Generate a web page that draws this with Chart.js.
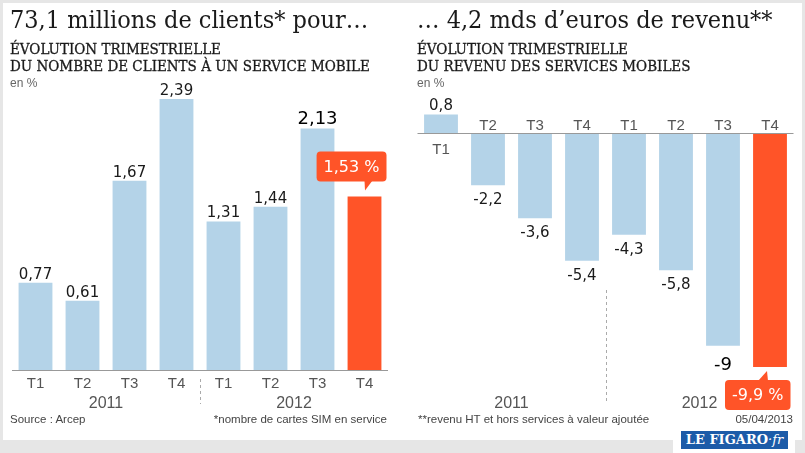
<!DOCTYPE html>
<html>
<head>
<meta charset="utf-8">
<script src="https://cdn.jsdelivr.net/npm/chart.js@4.4.1/dist/chart.umd.min.js"></script>
<style>
  html, body { margin: 0; padding: 0; }
  body { width: 805px; height: 453px; background: #e6e6e6; position: relative; overflow: hidden; font-family: "Liberation Sans", sans-serif; }
  #panel { position: absolute; left: 3px; top: 3px; width: 799px; height: 437px; background: #fff; }
  canvas { position: absolute; top: 0; }
  #left { left: 0; }
  #right { left: 402px; }
  .t { position: absolute; white-space: nowrap; color: #1a1a1a; }
  .title { font-family: "DejaVu Serif"; font-stretch: condensed; font-size: 25px; top: 5px; }
  .sub { font-family: "DejaVu Serif"; font-stretch: condensed; font-size: 15px; line-height: 17px; top: 41px;
    -webkit-text-stroke: 0.3px #1a1a1a; }
  .unit { font-size: 12px; color: #666; top: 76px; }
  .foot { font-size: 11.5px; color: #444; top: 413px; }
  #logo { position: absolute; left: 673px; top: 431px; width: 122px; height: 22px; background: #fff; }
  #logo div { position: absolute; left: 8px; top: 0; width: 107px; height: 18px; background: #1c5ba8; color: #fff;
    font-family: "DejaVu Serif"; font-weight: bold; font-size: 13px; line-height: 18px; text-align: center; }
</style>
</head>
<body>
<div id="panel"></div>
<canvas id="left" width="402" height="453"></canvas>
<canvas id="right" width="403" height="453"></canvas>

<div class="t title" style="left:10px">73,1 millions de clients* pour…</div>
<div class="t sub" style="left:10px">ÉVOLUTION TRIMESTRIELLE<br>DU NOMBRE DE CLIENTS À UN SERVICE MOBILE</div>
<div class="t unit" style="left:10px">en %</div>

<div class="t title" style="left:417px">… 4,2 mds d’euros de revenu**</div>
<div class="t sub" style="left:417px">ÉVOLUTION TRIMESTRIELLE<br>DU REVENU DES SERVICES MOBILES</div>
<div class="t unit" style="left:417px">en %</div>

<div class="t foot" style="left:10px">Source : Arcep</div>
<div class="t foot" style="right:418px">*nombre de cartes SIM en service</div>
<div class="t foot" style="left:418px">**revenu HT et hors services à valeur ajoutée</div>
<div class="t foot" style="right:12px">05/04/2013</div>
<div id="logo"><div>LE FIGARO<span style="font-weight:normal;font-style:italic">·fr</span></div></div>

<script>
const quarters = ["T1", "T2", "T3", "T4", "T1", "T2", "T3", "T4"];
const years = ["2011", "2012"];
const clients = [0.77, 0.61, 1.67, 2.39, 1.31, 1.44, 2.13, 1.53];
const revenue = [0.8, -2.2, -3.6, -5.4, -4.3, -5.8, -9, -9.9];

const blue = "#b4d3e8";
const orange = "#ff5428";

function fmt(v) {
  return String(v).replace(".", ",");
}

const labelsPlugin = {
  id: "labels",
  afterDatasetsDraw(chart, args, opts) {
    const { ctx, chartArea, scales: { x, y } } = chart;
    const values = chart.data.datasets[0].data;
    const bars = chart.getDatasetMeta(0).data;
    const zero = Math.round(y.getPixelForValue(0)) + 0.5;
    const last = values.length - 1;

    ctx.save();
    // axis line
    ctx.strokeStyle = "#999";
    ctx.lineWidth = 1;
    ctx.beginPath();
    ctx.moveTo(chartArea.left, zero);
    ctx.lineTo(chartArea.right, zero);
    ctx.stroke();

    ctx.textAlign = "center";
    ctx.textBaseline = "alphabetic";

    values.forEach((v, i) => {
      const bar = bars[i];
      const cx = bar.x;
      const end = bar.y;

      // quarter labels
      ctx.fillStyle = "#555";
      ctx.font = '15px "Liberation Sans"';
      const tickY = opts.flipTicks && v < 0 ? zero - 4 : zero + opts.tickBelow;
      ctx.fillText(chart.data.labels[i], cx, tickY);

      if (i === last) {
        // callout
        ctx.font = '16px "DejaVu Sans"';
        const txt = fmt(v) + " %";
        const w = ctx.measureText(txt).width + 14;
        const h = 30;
        let bx, by;
        ctx.fillStyle = orange;
        ctx.beginPath();
        if (v >= 0) {
          bx = cx + 22 - w;
          by = end - 15 - h;
          ctx.moveTo(cx, by + h - 1);
          ctx.lineTo(cx + 8, by + h - 1);
          ctx.lineTo(cx + 0.5, by + h + 9);
        } else {
          bx = cx - 45;
          by = end + 13;
          ctx.moveTo(cx - 12, by + 1);
          ctx.lineTo(cx - 2, by + 1);
          ctx.lineTo(cx - 3, by - 9);
        }
        ctx.closePath();
        ctx.fill();
        ctx.beginPath();
        ctx.roundRect(bx, by, w, h, 4);
        ctx.fill();
        ctx.fillStyle = "#fff";
        ctx.textBaseline = "middle";
        ctx.fillText(txt, bx + w / 2, by + h / 2 + 1);
        ctx.textBaseline = "alphabetic";
      } else {
        const big = i === last - 1;
        ctx.fillStyle = big ? "#000" : "#1a1a1a";
        ctx.font = (big ? "18px" : "15px") + ' "DejaVu Sans"';
        const ly = v >= 0 ? end - 4 : end + (big ? 24 : 19);
        ctx.fillText(fmt(v), cx, ly);
      }
    });

    // years and separator
    const half = values.length / 2;
    ctx.fillStyle = "#555";
    ctx.font = '16px "Liberation Sans"';
    years.forEach((yr, k) => {
      const a = bars[k * half].x;
      const b = bars[k * half + half - 1].x;
      ctx.fillText(yr, (a + b) / 2, 408);
    });
    const sx = Math.round((bars[half - 1].x + bars[half].x) / 2) + 0.5;
    ctx.strokeStyle = "#aaa";
    ctx.setLineDash([3, 3]);
    ctx.beginPath();
    ctx.moveTo(sx, opts.sepTop);
    ctx.lineTo(sx, 404);
    ctx.stroke();
    ctx.restore();
  }
};

function makeChart(id, values, yMin, yMax, padding, plugOpts) {
  return new Chart(document.getElementById(id), {
    type: "bar",
    data: {
      labels: quarters,
      datasets: [
        {
          data: values,
          backgroundColor: values.map((v, i) => (i === values.length - 1 ? orange : blue)),
          barPercentage: 0.72,
          categoryPercentage: 1,
        },
      ],
    },
    options: {
      responsive: false,
      animation: false,
      events: [],
      layout: { padding: padding },
      plugins: {
        legend: { display: false },
        tooltip: { enabled: false },
        labels: plugOpts,
      },
      scales: {
        x: { display: false },
        y: { display: false, min: yMin, max: yMax },
      },
    },
    plugins: [labelsPlugin],
  });
}

makeChart("left", clients, 0, 2.487, { left: 12, right: 14, top: 88, bottom: 83 },
  { flipTicks: false, tickBelow: 17, sepTop: 379 });
makeChart("right", revenue, -11.3, 1.92, { left: 15.5, right: 11.5, top: 88, bottom: 53 },
  { flipTicks: true, tickBelow: 20, sepTop: 290 });
</script>
</body>
</html>
